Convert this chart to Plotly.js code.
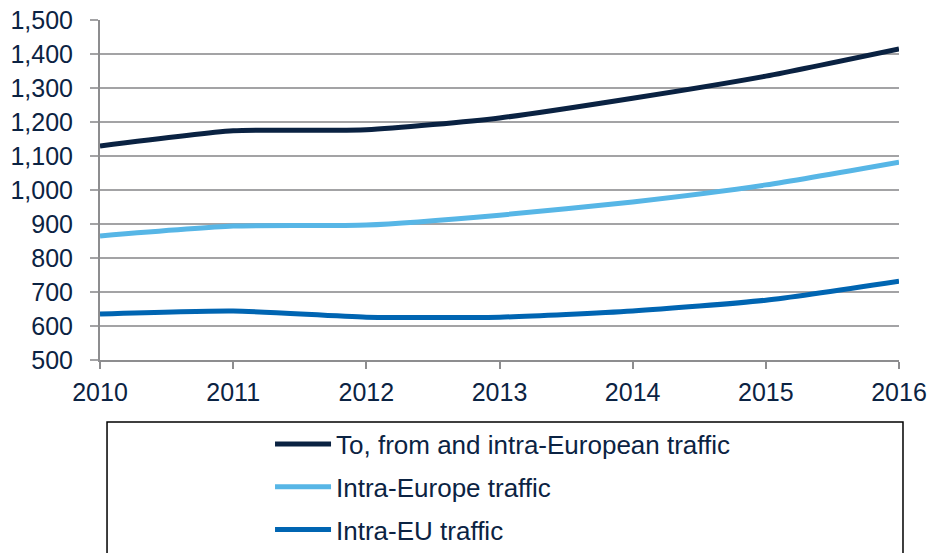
<!DOCTYPE html>
<html>
<head>
<meta charset="utf-8">
<script src="https://cdn.plot.ly/plotly-3.0.1.min.js"></script>
<style>
  html, body { margin: 0; padding: 0; background: #ffffff; }
  #chart { width: 932px; height: 553px; }
</style>
</head>
<body>
<div id="chart"></div>
<script>
const years = [2010, 2011, 2012, 2013, 2014, 2015, 2016];
const toFromIntraEuropean = [1129, 1174, 1177, 1212, 1270, 1335, 1415];
const intraEurope = [865, 894, 897, 926, 965, 1015, 1082];
const intraEU = [635, 644, 626, 626, 644, 676, 732];
const seriesNames = ["To, from and intra-European traffic", "Intra-Europe traffic", "Intra-EU traffic"];
const yTicks = [500, 600, 700, 800, 900, 1000, 1100, 1200, 1300, 1400, 1500];

const colors = ["#0a2242", "#57b6e6", "#0065b2"];
const textColor = "#0b2343";

const traces = [toFromIntraEuropean, intraEurope, intraEU].map((vals, i) => ({
  type: "scatter",
  mode: "lines",
  x: years,
  y: vals,
  name: seriesNames[i],
  legendgroup: "g" + i,
  line: { color: colors[i], width: 5, shape: "spline", smoothing: 0.6 },
  hoverinfo: "x+y+name"
}));

const layout = {
  width: 932,
  height: 553,
  margin: { l: 100, r: 33, t: 20, b: 193, autoexpand: false },
  paper_bgcolor: "#ffffff",
  plot_bgcolor: "#ffffff",
  font: { family: "Liberation Sans, Arial, sans-serif", color: textColor, size: 25 },
  showlegend: true,
  xaxis: {
    type: "linear",
    range: [2010, 2016],
    tickvals: years,
    ticktext: years.map(String),
    showgrid: false,
    zeroline: false,
    showline: true,
    linecolor: "#8d8d8f",
    linewidth: 2,
    ticks: "outside",
    ticklen: 7,
    tickwidth: 2,
    tickcolor: "#8d8d8f",
    ticklabelstandoff: 2,
    tickfont: { size: 25, color: textColor },
    automargin: false,
    fixedrange: true
  },
  yaxis: {
    range: [500, 1500],
    tickvals: yTicks,
    ticktext: yTicks.map(v => v.toLocaleString("en-US")),
    showgrid: true,
    gridcolor: "#a3a3a5",
    gridwidth: 2,
    zeroline: false,
    showline: true,
    linecolor: "#8d8d8f",
    linewidth: 2,
    ticks: "outside",
    ticklen: 8,
    tickwidth: 2,
    tickcolor: "#a3a3a5",
    ticklabelstandoff: 12,
    tickfont: { size: 25, color: textColor },
    automargin: false,
    fixedrange: true
  },
  legend: {
    x: 0.2128,
    xanchor: "left",
    y: -0.178,
    yanchor: "top",
    orientation: "v",
    traceorder: "grouped",
    tracegroupgap: 6,
    itemwidth: 56,
    bgcolor: "rgba(0,0,0,0)",
    borderwidth: 0,
    font: { family: "Liberation Sans, Arial, sans-serif", size: 26, color: textColor }
  },
  shapes: [{
    type: "rect",
    xref: "paper", yref: "paper",
    x0: 0.0088, x1: 1.005, y0: -0.62, y1: -0.182,
    line: { color: "#000000", width: 1.5 },
    fillcolor: "rgba(0,0,0,0)",
    layer: "below"
  }]
};

Plotly.newPlot("chart", traces, layout, { displayModeBar: false, staticPlot: true });
</script>
</body>
</html>
